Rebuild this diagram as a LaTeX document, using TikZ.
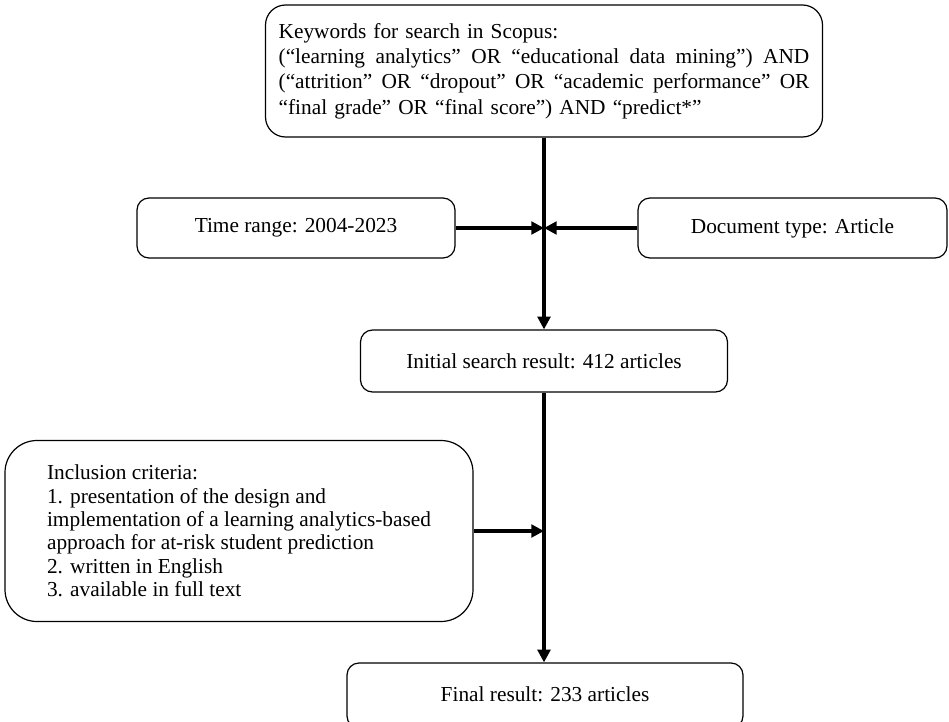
\documentclass[tikz,border=0pt]{standalone}
\usepackage{fontspec}
\setmainfont{Liberation Serif}
\usepackage{tikz}
\usetikzlibrary{positioning, arrows.meta}

% one line spread out to the full width of the keyword box
\newcommand{\fullline}[1]{\leavevmode\hbox to 398pt{\spaceskip=0.25em plus 1fil\relax #1}}

\begin{document}
\begin{tikzpicture}[x=0.75pt, y=-0.75pt, font=\fontsize{16}{19}\selectfont,
	stage/.style={draw, line width=0.9pt, rounded corners=9pt, align=center, inner sep=0pt},
	flow/.style={line width=2.3pt, -{Triangle[length=9.5pt, width=9.5pt]}}]
	\useasboundingbox (0,0) rectangle (949,721);

	\node[stage, rounded corners=15pt, minimum width=417.75pt, minimum height=99pt, text width=398pt, align=left] (kw) at (544,71) {Keywords for search in Scopus:\\
		\fullline{(“learning analytics” OR “educational data mining”) AND}\\
		\fullline{(“attrition” OR “dropout” OR “academic performance” OR}\\
		“final grade” OR “final score”) AND “predict*”};
	\node[stage, minimum width=238.5pt, minimum height=45pt] (time) at (296,228) {Time range: 2004-2023};
	\node[stage, minimum width=231.75pt, minimum height=45pt] (doc) at (792.5,228) {Document type: Article};
	\node[stage, minimum width=275.25pt, minimum height=46.5pt] (init) at (544,361) {Initial search result: 412 articles};
	\node[stage, rounded corners=24pt, minimum width=351pt, minimum height=135.75pt, align=left, font=\fontsize{16}{17.5}\selectfont] (incl) at (239,531) {Inclusion criteria:\\
		1. presentation of the design and\\
		implementation of a learning analytics-based\\
		approach for at-risk student prediction\\
		2. written in English\\
		3. available in full text};
	\node[stage, minimum width=297pt, minimum height=48.75pt] (final) at (545,695.5) {\raisebox{2.6pt}{Final result: 233 articles}};

	\draw[flow] (kw) -- (init);
	\draw[flow] (time) -- (time -| kw.south);
	\draw[flow] (doc) -- (doc -| kw.south);
	\draw[flow] (init) -- (init.south |- final.north);
	\draw[flow] (incl) -- (incl -| init.south);
\end{tikzpicture}
\end{document}
